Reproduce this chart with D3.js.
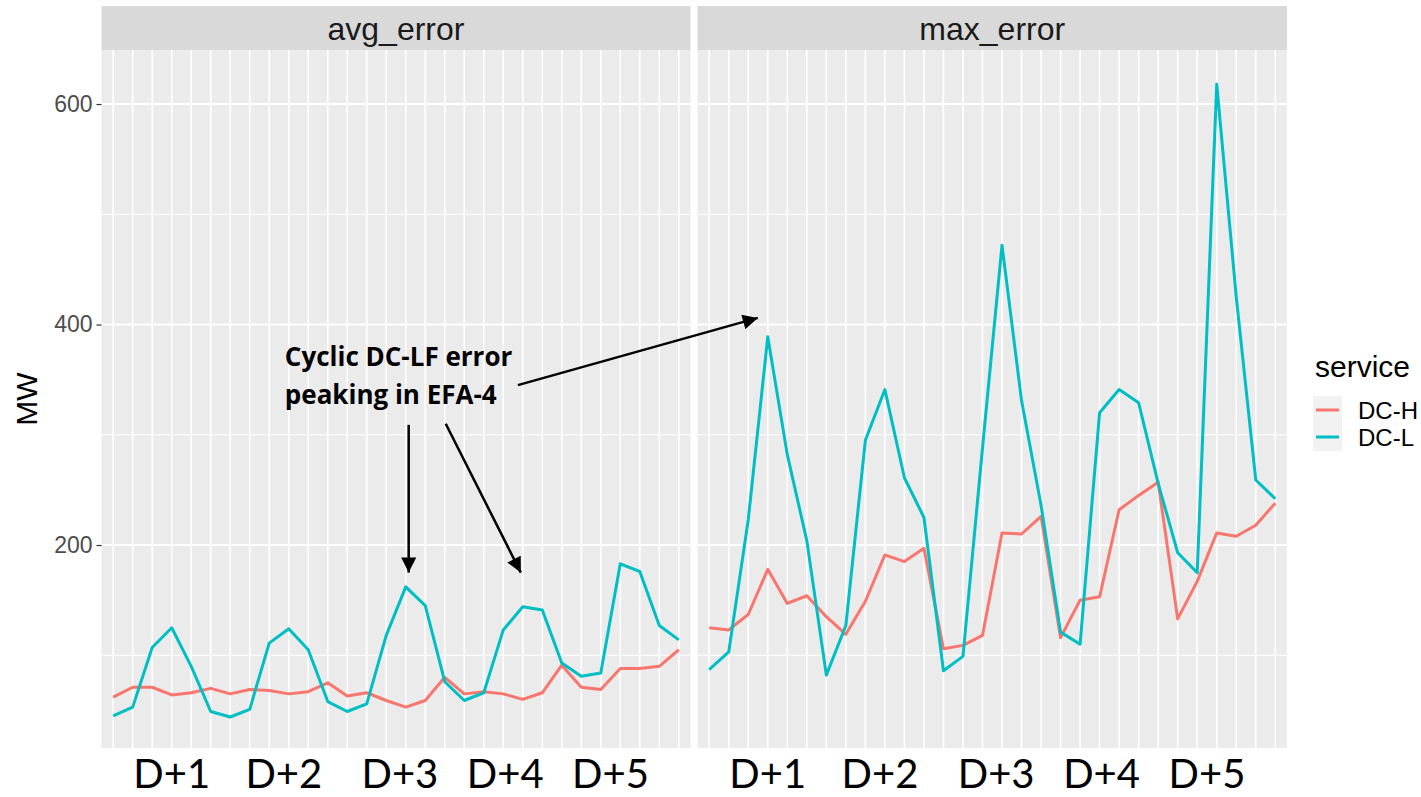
<!DOCTYPE html>
<html>
<head>
<meta charset="utf-8">
<script src="https://cdn.jsdelivr.net/npm/d3@7"></script>
<style>
  html, body { margin: 0; padding: 0; background: #fff; }
  svg { display: block; }
</style>
</head>
<body>
<svg id="chart" width="1421" height="797"></svg>
<script>
// ---- data -------------------------------------------------------------
const days = ["D+1", "D+2", "D+3", "D+4", "D+5"];
const blocks = ["EFA-1", "EFA-2", "EFA-3", "EFA-4", "EFA-5", "EFA-6"];
const slots = days.flatMap(d => blocks.map(b => d + " " + b));

const facets = ["avg_error", "max_error"];
const services = ["DC-H", "DC-L"];
const serviceColors = ["#F8766D", "#00BFC4"];

const avgDCH = [62, 71, 71, 64, 66, 70, 65, 69, 68, 65, 67, 75, 63, 66, 59,
                53, 59, 80, 65, 67, 65, 60, 66, 91, 71, 69, 88, 88, 90, 105];
const avgDCL = [45, 53, 107, 125, 90, 49, 44, 51, 111, 124, 105, 58, 49, 56, 118,
                162, 145, 76, 59, 66, 123, 144, 141, 93, 81, 84, 183, 176, 127, 114];
const maxDCH = [125, 123, 137, 178, 147, 154, 135, 119, 149, 191, 185, 197, 106, 109, 118,
                211, 210, 226, 116, 150, 153, 232, 245, 257, 133, 167, 211, 208, 218, 238];
const maxDCL = [87, 103, 223, 389, 282, 204, 82, 127, 295, 341, 261, 225, 86, 99, 288,
                472, 331, 236, 121, 110, 320, 341, 329, 256, 193, 175, 618, 425, 259, 242];

const seriesByFacet = {
  avg_error: [avgDCH, avgDCL],
  max_error: [maxDCH, maxDCL]
};

const yTicks = [200, 400, 600];
const yMinor = [100, 300, 500];

// Day labels under each panel, placed on the slot index axis
const dayLabelPos = [3, 8.75, 14.7, 20.1, 25.5];

// Annotation, in avg_error slot index / MW units
const noteLines = ["Cyclic DC-LF error", "peaking in EFA-4"];
const noteAnchor = { x: 8.8, y: 362 };
const noteLineStep = 34.2;
const noteArrows = [
  { x1: 15.15, y1: 309, x2: 15.15, y2: 175 },
  { x1: 17.05, y1: 310, x2: 20.9, y2: 175 },
  { x1: 20.75, y1: 345, x2: 33.05, y2: 406 }
];

// ---- layout -----------------------------------------------------------
const panelTop = 50, panelBottom = 748, stripTop = 6;
const panelX = [[101.5, 690.5], [697.5, 1287]];

const svg = d3.select("#chart");
const y = d3.scaleLinear().domain([15.9, 649]).range([panelBottom, panelTop]);

const defs = svg.append("defs");
defs.append("marker")
  .attr("id", "arrowhead")
  .attr("viewBox", "0 0 10 10")
  .attr("refX", 10).attr("refY", 5)
  .attr("markerWidth", 6.5).attr("markerHeight", 6)
  .attr("markerUnits", "strokeWidth")
  .attr("orient", "auto")
  .append("path")
  .attr("d", "M0,0 L10,5 L0,10 Z")
  .attr("fill", "#000");

const lineGen = (xs) => d3.line()
  .x((d, i) => xs(slots[i]))
  .y(d => y(d));

let xLinLeft = null;

facets.forEach((facet, fi) => {
  const [x0, x1] = panelX[fi];
  const xs = d3.scalePoint().domain(slots).range([x0, x1]).padding(0.6);
  const xLin = d3.scaleLinear().domain([-0.6, slots.length - 1 + 0.6]).range([x0, x1]);
  if (fi === 0) xLinLeft = xLin;

  const g = svg.append("g");

  // strip
  g.append("rect")
    .attr("x", x0).attr("y", stripTop)
    .attr("width", x1 - x0).attr("height", panelTop - stripTop)
    .attr("fill", "#D9D9D9");
  g.append("text")
    .attr("x", (x0 + x1) / 2).attr("y", 40)
    .attr("text-anchor", "middle")
    .attr("font-family", "Liberation Sans, Arial, sans-serif")
    .attr("font-size", 32)
    .attr("fill", "#1A1A1A")
    .text(facet);

  // panel background
  g.append("rect")
    .attr("x", x0).attr("y", panelTop)
    .attr("width", x1 - x0).attr("height", panelBottom - panelTop)
    .attr("fill", "#EBEBEB");

  // grid
  g.selectAll(".minor").data(yMinor).join("line")
    .attr("x1", x0).attr("x2", x1)
    .attr("y1", d => y(d)).attr("y2", d => y(d))
    .attr("stroke", "#fff").attr("stroke-width", 1);
  g.selectAll(".major").data(yTicks).join("line")
    .attr("x1", x0).attr("x2", x1)
    .attr("y1", d => y(d)).attr("y2", d => y(d))
    .attr("stroke", "#fff").attr("stroke-width", 2);
  g.selectAll(".vgrid").data(slots).join("line")
    .attr("x1", d => xs(d)).attr("x2", d => xs(d))
    .attr("y1", panelTop).attr("y2", panelBottom)
    .attr("stroke", "#fff").attr("stroke-width", 1.6);

  // series lines
  seriesByFacet[facet].forEach((vals, si) => {
    g.append("path")
      .datum(vals)
      .attr("d", lineGen(xs))
      .attr("fill", "none")
      .attr("stroke", serviceColors[si])
      .attr("stroke-width", 3)
      .attr("stroke-linejoin", "round");
  });

  // day labels
  g.selectAll(".day").data(days).join("text")
    .attr("x", (d, i) => xLin(dayLabelPos[i]))
    .attr("y", 788)
    .attr("text-anchor", "middle")
    .attr("font-family", "Lato, Open Sans, sans-serif")
    .attr("font-size", 40)
    .attr("fill", "#000")
    .text(d => d);
});

// y axis on the left panel
const yAxis = d3.axisLeft(y).tickValues(yTicks).tickSize(5).tickPadding(4);
const ya = svg.append("g")
  .attr("transform", `translate(${panelX[0][0]},0)`)
  .call(yAxis);
ya.select(".domain").remove();
ya.selectAll(".tick line").attr("stroke", "#333").attr("stroke-width", 1.2);
ya.selectAll(".tick text")
  .attr("font-family", "Liberation Sans, Arial, sans-serif")
  .attr("font-size", 23)
  .attr("fill", "#4D4D4D");

// y title
svg.append("text")
  .attr("transform", `translate(37,${(panelTop + panelBottom) / 2}) rotate(-90)`)
  .attr("text-anchor", "middle")
  .attr("font-family", "Liberation Sans, Arial, sans-serif")
  .attr("font-size", 30)
  .attr("fill", "#000")
  .text("MW");

// legend
const leg = svg.append("g").attr("transform", "translate(1313,0)");
leg.append("text")
  .attr("x", 2).attr("y", 377)
  .attr("font-family", "Liberation Sans, Arial, sans-serif")
  .attr("font-size", 30)
  .attr("fill", "#000")
  .text("service");
services.forEach((s, i) => {
  const cy = 410 + i * 27;
  leg.append("rect")
    .attr("x", 0).attr("y", cy - 14)
    .attr("width", 29).attr("height", 28)
    .attr("fill", "#F2F2F2");
  leg.append("line")
    .attr("x1", 3).attr("x2", 26)
    .attr("y1", cy).attr("y2", cy)
    .attr("stroke", serviceColors[i]).attr("stroke-width", 3);
  leg.append("text")
    .attr("x", 45).attr("y", cy + 9)
    .attr("font-family", "Liberation Sans, Arial, sans-serif")
    .attr("font-size", 24)
    .attr("fill", "#000")
    .text(s);
});

// annotation
const note = svg.append("g");
noteLines.forEach((t, i) => {
  note.append("text")
    .attr("x", xLinLeft(noteAnchor.x))
    .attr("y", y(noteAnchor.y - i * noteLineStep))
    .attr("font-family", "Open Sans, Lato, sans-serif")
    .attr("font-weight", "bold")
    .attr("font-size", 26)
    .attr("fill", "#000")
    .text(t);
});
note.selectAll(".arrow").data(noteArrows).join("line")
  .attr("x1", d => xLinLeft(d.x1)).attr("y1", d => y(d.y1))
  .attr("x2", d => xLinLeft(d.x2)).attr("y2", d => y(d.y2))
  .attr("stroke", "#000").attr("stroke-width", 2.5)
  .attr("marker-end", "url(#arrowhead)");
</script>
</body>
</html>
